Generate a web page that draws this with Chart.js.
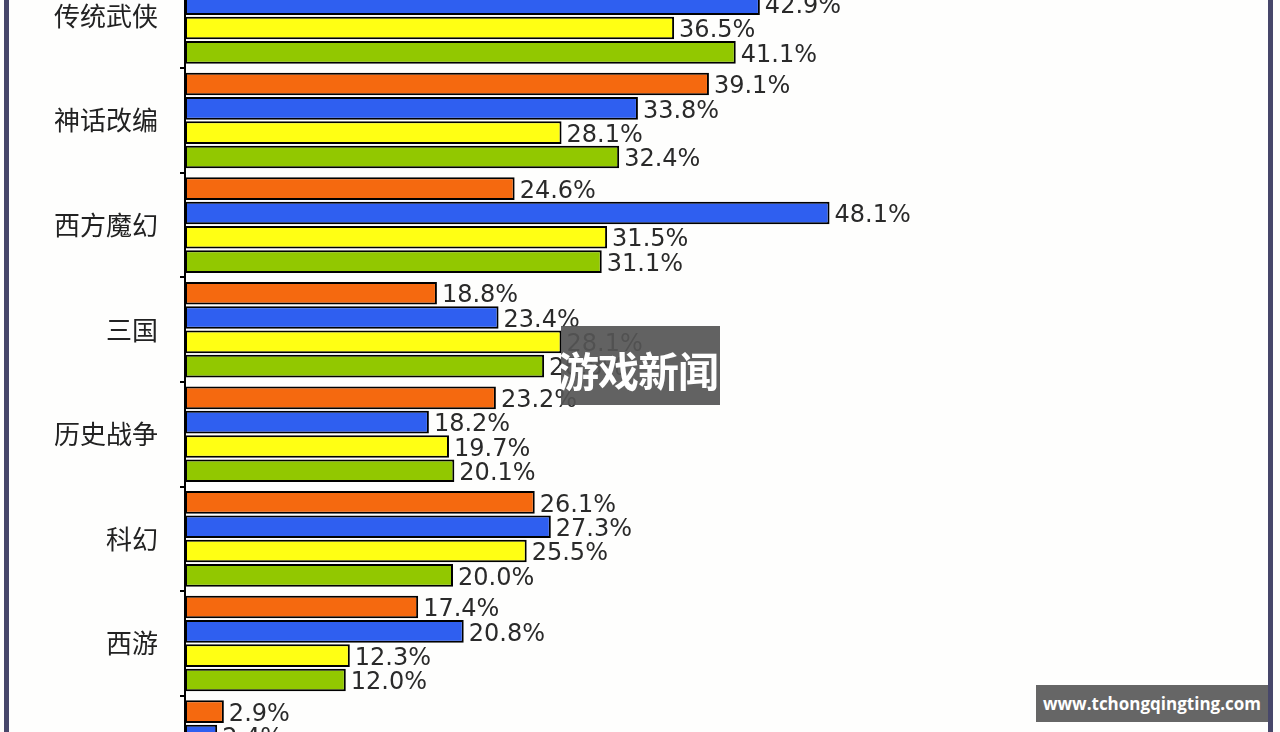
<!DOCTYPE html>
<html>
<head>
<meta charset="utf-8">
<script src="https://cdn.jsdelivr.net/npm/chart.js@4/dist/chart.umd.min.js"></script>
<style>
  html, body { margin: 0; padding: 0; background: #fff; }
  #page { position: relative; width: 1280px; height: 732px; overflow: hidden; background: #fefefd; }
  #wrap { position: absolute; left: 0; top: -74px; width: 1280px; height: 912px; }
  .frame { position: absolute; top: 0; height: 732px; width: 5px; background: #47476a; }
  .mark1 { position: absolute; left: 561px; top: 326px; width: 159px; height: 79px; background: rgba(85,85,85,0.92);
    color: #fff; font: bold 41px "Noto Sans CJK SC", sans-serif; line-height: 86px; white-space: nowrap; letter-spacing: -1px; text-indent: -3px; }
  .mark2 { position: absolute; left: 1036px; top: 685px; width: 232px; height: 37px; background: #666;
    color: #fff; font: bold 17px "Open Sans", sans-serif; line-height: 37px; text-align: center; }
</style>
</head>
<body>
<div id="page">
  <div id="wrap"><canvas id="myChart"></canvas></div>
  <div class="frame" style="left:4px"></div>
  <div class="frame" style="left:1268px"></div>
  <div class="mark1">游戏新闻</div>
  <div class="mark2">www.tchongqingting.com</div>
</div>
<script>
const categories = ['传统武侠', '神话改编', '西方魔幻', '三国', '历史战争', '科幻', '西游', '其他']
const seriesNames = ['系列1', '系列2', '系列3', '系列4']
const seriesColors = ['#f5690f', '#2f5ff0', '#ffff14', '#92c800']
// values in % (first orange and last rows are cut off, estimated)
const orangeValues = [44.0, 39.1, 24.6, 18.8, 23.2, 26.1, 17.4, 2.9]
const blueValues   = [42.9, 33.8, 48.1, 23.4, 18.2, 27.3, 20.8, 2.4]
const yellowValues = [36.5, 28.1, 31.5, 28.1, 19.7, 25.5, 12.3, 2.0]
const greenValues  = [41.1, 32.4, 31.1, 26.8, 20.1, 20.0, 12.0, 2.2]

const valueLabels = {
  id: 'valueLabels',
  afterDatasetsDraw(chart) {
    const ctx = chart.ctx
    ctx.save()
    ctx.font = '24px "DejaVu Sans"'
    ctx.fillStyle = '#2a2a2a'
    ctx.textAlign = 'left'
    ctx.textBaseline = 'middle'
    chart.data.datasets.forEach((ds, i) => {
      chart.getDatasetMeta(i).data.forEach((bar, j) => {
        ctx.fillText(ds.data[j].toFixed(1) + '%', bar.x + 5, bar.y + 3)
      })
    })
    ctx.restore()
  }
}

function makeDataset(name, values, color) {
  return {
    label: name,
    data: values,
    backgroundColor: color,
    borderColor: '#000',
    borderWidth: 2,
    borderSkipped: false,
    categoryPercentage: 0.93,
    barPercentage: 0.93
  }
}

new Chart(document.getElementById('myChart'), {
  type: 'bar',
  data: {
    labels: categories,
    datasets: [
      makeDataset(seriesNames[0], orangeValues, seriesColors[0]),
      makeDataset(seriesNames[1], blueValues, seriesColors[1]),
      makeDataset(seriesNames[2], yellowValues, seriesColors[2]),
      makeDataset(seriesNames[3], greenValues, seriesColors[3])
    ]
  },
  options: {
    indexAxis: 'y',
    responsive: true,
    maintainAspectRatio: false,
    animation: false,
    layout: { padding: { left: 0, right: 23, top: 0, bottom: 0 } },
    plugins: {
      legend: { display: false },
      tooltip: { enabled: false }
    },
    scales: {
      x: { display: false, min: 0, max: 80 },
      y: {
        afterFit(scale) { scale.width = 185 },
        grid: { drawOnChartArea: false, drawTicks: true, tickLength: 5, color: '#000', lineWidth: 2 },
        border: { display: true, color: '#000', width: 2 },
        ticks: { padding: 22, color: '#222', font: { family: '"Noto Sans CJK SC"', size: 26 } }
      }
    }
  },
  plugins: [valueLabels]
})
</script>
</body>
</html>
